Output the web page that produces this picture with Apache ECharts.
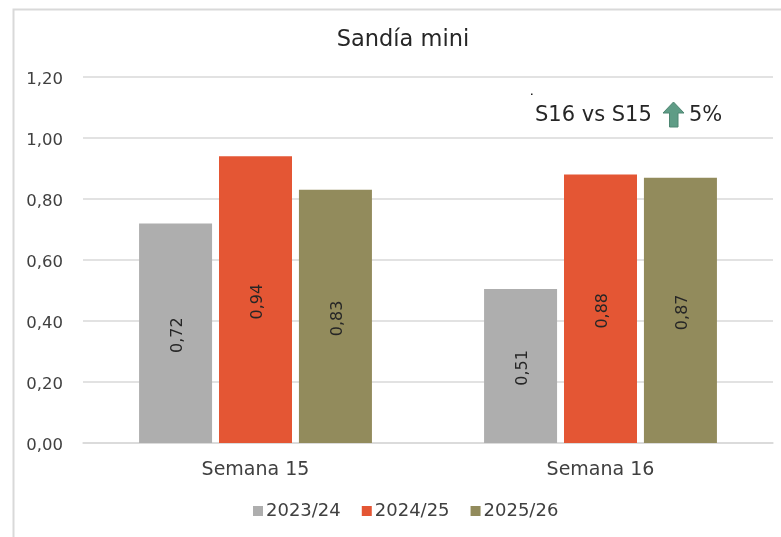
<!DOCTYPE html>
<html><head><meta charset="utf-8">
<style>html,body{margin:0;padding:0;background:#fff}#c{width:781px;height:537px}</style>
<script src="https://cdn.jsdelivr.net/npm/echarts@6/dist/echarts.min.js"></script>
</head><body><div id="c"></div>
<script>
const categories = ['Semana 15', 'Semana 16'];
const s2023 = [0.72, 0.505];
const s2024 = [0.94, 0.88];
const s2025 = [0.83, 0.87];
const seriesNames = ['2023/24', '2024/25', '2025/26'];
const colors = ['#AEAEAE', '#E45634', '#928B5C'];
const F = '"DejaVu Sans"';
const fmt = v => v.toFixed(2).replace('.', ',');
const chart = echarts.init(document.getElementById('c'), null, {renderer: 'canvas'});
const mk = (name, data, color) => ({
  name, type: 'bar', data, barWidth: 73, barGap: '9.5%',
  itemStyle: {color},
  label: {show: true, position: 'inside', rotate: 90, color: '#262626', fontFamily: F, fontSize: 16,
    offset: [-2, 2], formatter: p => fmt(p.value)}
});
chart.setOption({
  animation: false,
  backgroundColor: '#fff',
  title: {text: 'Sandía mini', left: 398, top: 24, textAlign: 'center',
    textStyle: {fontFamily: F, fontWeight: 'normal', fontSize: 22.5, color: '#262626'}},
  legend: {top: 497, left: 248, itemWidth: 10, itemHeight: 10, itemGap: 21, icon: 'rect',
    data: seriesNames,
    textStyle: {fontFamily: F, fontSize: 18, color: '#404040', padding: [0, 0, 0, -2]}},
  grid: {left: 83, right: 8, top: 77, bottom: 94},
  xAxis: {type: 'category', data: categories,
    axisTick: {show: false},
    axisLine: {lineStyle: {color: '#D9D9D9', width: 1.5}},
    axisLabel: {fontFamily: F, fontSize: 19, color: '#404040', margin: 18}},
  yAxis: {type: 'value', min: 0, max: 1.2, interval: 0.2,
    axisLine: {show: false}, axisTick: {show: false},
    splitLine: {lineStyle: {color: '#D9D9D9', width: 1.5}},
    axisLabel: {color: '#404040', margin: 20, formatter: v => '{a|' + fmt(v) + '}',
      rich: {a: {fontFamily: F, fontSize: 16.5, color: '#404040', padding: [5, 0, 0, 0]}}}},
  series: [mk(seriesNames[0], s2023, colors[0]), mk(seriesNames[1], s2024, colors[1]), mk(seriesNames[2], s2025, colors[2])],
  graphic: [
    {type: 'rect', silent: true, z: -1, shape: {x: 13.5, y: 9.5, width: 800, height: 600},
      style: {fill: 'none', stroke: '#D9D9D9', lineWidth: 2}},
    {type: 'text', left: 535, top: 105, style: {text: 'S16 vs S15', fontFamily: F, fontSize: 21, fill: '#262626'}},
    {type: 'text', left: 689, top: 105, style: {text: '5%', fontFamily: F, fontSize: 21, fill: '#262626'}},
    {type: 'polygon', shape: {points: [[673.5, 102], [684, 113], [678, 113], [678, 127], [669.5, 127], [669.5, 113], [663, 113]]},
      style: {fill: '#5F9C86', stroke: '#4E8672', lineWidth: 1}},
    {type: 'rect', shape: {x: 531, y: 93.5, width: 1.5, height: 1.5}, style: {fill: '#222'}}
  ]
});
</script></body></html>
